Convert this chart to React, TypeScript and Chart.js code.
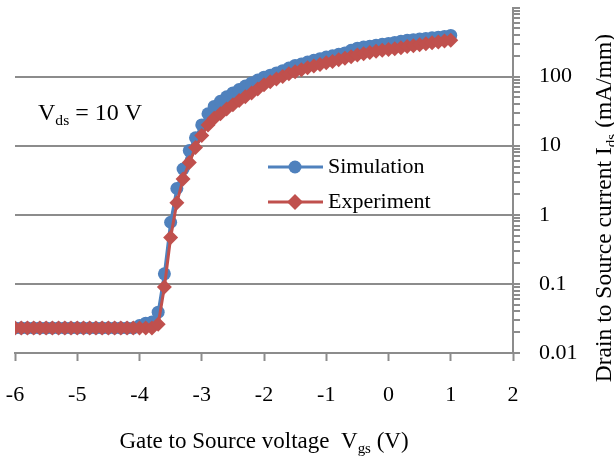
import React, { useEffect, useRef } from 'react';
import { Chart, registerables } from 'chart.js';

Chart.register(...registerables);

// Gate-to-source voltage (V)
const vgs = [
  -6.0, -5.9, -5.8, -5.7, -5.6, -5.5, -5.4, -5.3, -5.2, -5.1,
  -5.0, -4.9, -4.8, -4.7, -4.6, -4.5, -4.4, -4.3, -4.2, -4.1,
  -4.0, -3.9, -3.8, -3.7, -3.6, -3.5, -3.4, -3.3, -3.2, -3.1,
  -3.0, -2.9, -2.8, -2.7, -2.6, -2.5, -2.4, -2.3, -2.2, -2.1,
  -2.0, -1.9, -1.8, -1.7, -1.6, -1.5, -1.4, -1.3, -1.2, -1.1,
  -1.0, -0.9, -0.8, -0.7, -0.6, -0.5, -0.4, -0.3, -0.2, -0.1,
  0.0, 0.1, 0.2, 0.3, 0.4, 0.5, 0.6, 0.7, 0.8, 0.9,
  1.0,
];

// Drain current Ids (mA/mm)
const simulation = [
  0.023, 0.023, 0.023, 0.023, 0.023, 0.023, 0.023, 0.023, 0.023, 0.023,
  0.023, 0.023, 0.023, 0.023, 0.023, 0.023, 0.023, 0.023, 0.023, 0.023,
  0.025, 0.027, 0.028, 0.039, 0.14, 0.78, 2.4, 4.6, 8.5, 13,
  20, 29, 37, 44, 51, 58, 65, 73, 81, 89,
  98, 105, 113, 122, 133, 145, 152, 162, 172, 182,
  192, 200, 210, 220, 240, 258, 268, 276, 285, 294,
  302, 312, 324, 335, 342, 350, 357, 364, 372, 382,
  395,
];

const experiment = [
  0.023, 0.023, 0.023, 0.023, 0.023, 0.023, 0.023, 0.023, 0.023, 0.023,
  0.023, 0.023, 0.023, 0.023, 0.023, 0.023, 0.023, 0.023, 0.023, 0.023,
  0.023, 0.023, 0.023, 0.026, 0.09, 0.47, 1.5, 3.3, 5.7, 9.4,
  14, 20, 25, 29, 34, 39, 45, 51, 58, 66,
  76, 84, 92, 100, 110, 118, 126, 134, 142, 150,
  158, 166, 175, 184, 194, 206, 215, 224, 232, 240,
  247, 254, 262, 272, 280, 290, 298, 308, 318, 328,
  337,
];

const xTickValues = [-6, -5, -4, -3, -2, -1, 0, 1, 2];
const yMajorValues = [0.01, 0.1, 1, 10, 100, 1000];
const yMajorLabels = ['0.01', '0.1', '1', '10', '100', ''];
const yMinorMultipliers = [2, 3, 4, 5, 6, 7, 8, 9];

const seriesNames = ['Simulation', 'Experiment'];
const annotation = [{ t: 'V' }, { t: 'ds', sub: true }, { t: ' = 10 V' }];
const xTitle = [{ t: 'Gate to Source voltage  V' }, { t: 'gs', sub: true }, { t: ' (V)' }];
const yTitle = [
  { t: 'Drain to Source current I' },
  { t: 'ds', sub: true },
  { t: ' (mA/mm)' },
];

const BLUE = '#4F81BD';
const RED = '#C0504D';
const GRID = '#8c8c8c';
const FONT = '"Liberation Serif", "Times New Roman", serif';

type Seg = { t: string; sub?: boolean };

function drawRich(
  ctx: CanvasRenderingContext2D,
  segs: Seg[],
  x: number,
  y: number,
  size: number,
  align: 'left' | 'center'
) {
  const subSize = size * 0.65;
  let w = 0;
  for (const s of segs) {
    ctx.font = `${s.sub ? subSize : size}px ${FONT}`;
    w += ctx.measureText(s.t).width;
  }
  let cx = align === 'center' ? x - w / 2 : x;
  ctx.textAlign = 'left';
  ctx.textBaseline = 'alphabetic';
  ctx.fillStyle = '#000';
  for (const s of segs) {
    ctx.font = `${s.sub ? subSize : size}px ${FONT}`;
    ctx.fillText(s.t, cx, s.sub ? y + size * 0.2 : y);
    cx += ctx.measureText(s.t).width;
  }
}

function isMajor(v: number) {
  return yMajorValues.some((m) => Math.abs(Math.log10(v) - Math.log10(m)) < 1e-6);
}

const textPlugin = {
  id: 'customTexts',
  afterDraw(chart: any) {
    const ctx: CanvasRenderingContext2D = chart.ctx;
    ctx.save();

    // legend
    const rows = [
      { name: seriesNames[0], color: BLUE, style: 'circle', y: 167 },
      { name: seriesNames[1], color: RED, style: 'diamond', y: 202 },
    ];
    for (const r of rows) {
      ctx.strokeStyle = r.color;
      ctx.lineWidth = 3;
      ctx.beginPath();
      ctx.moveTo(268, r.y);
      ctx.lineTo(323, r.y);
      ctx.stroke();
      ctx.fillStyle = r.color;
      ctx.beginPath();
      if (r.style === 'circle') {
        ctx.arc(295, r.y, 6.5, 0, Math.PI * 2);
      } else {
        const d = 8;
        ctx.moveTo(295, r.y - d);
        ctx.lineTo(295 + d, r.y);
        ctx.lineTo(295, r.y + d);
        ctx.lineTo(295 - d, r.y);
        ctx.closePath();
      }
      ctx.fill();
      ctx.fillStyle = '#000';
      ctx.font = `22px ${FONT}`;
      ctx.textAlign = 'left';
      ctx.textBaseline = 'middle';
      ctx.fillText(r.name, 328, r.y);
    }

    // annotation
    drawRich(ctx, annotation, 38, 120, 24, 'left');

    // x title
    drawRich(ctx, xTitle, 264, 448, 23, 'center');

    // y title (rotated, reading bottom to top)
    ctx.save();
    ctx.translate(611, 208);
    ctx.rotate(-Math.PI / 2);
    drawRich(ctx, yTitle, 0, 0, 23.5, 'center');
    ctx.restore();

    ctx.restore();
  },
};

export default function App() {
  const canvasRef = useRef<HTMLCanvasElement | null>(null);

  useEffect(() => {
    document.body.style.margin = '0';
    const canvas = canvasRef.current;
    if (!canvas) return;

    const yTicks: number[] = [];
    for (let i = 0; i < yMajorValues.length - 1; i++) {
      yTicks.push(yMajorValues[i]);
      for (const m of yMinorMultipliers) yTicks.push(+(yMajorValues[i] * m).toPrecision(6));
    }
    yTicks.push(yMajorValues[yMajorValues.length - 1]);

    const chart = new Chart(canvas, {
      type: 'line',
      data: {
        datasets: [
          {
            label: seriesNames[0],
            data: vgs.map((x, i) => ({ x, y: simulation[i] })),
            borderColor: BLUE,
            backgroundColor: BLUE,
            pointBackgroundColor: BLUE,
            pointBorderColor: BLUE,
            pointStyle: 'circle',
            pointRadius: 6.5,
            pointBorderWidth: 0,
            borderWidth: 3,
            tension: 0,
            order: 2,
          },
          {
            label: seriesNames[1],
            data: vgs.map((x, i) => ({ x, y: experiment[i] })),
            borderColor: RED,
            backgroundColor: RED,
            pointBackgroundColor: RED,
            pointBorderColor: RED,
            pointStyle: 'rectRot',
            pointRadius: 7.5,
            pointBorderWidth: 0,
            borderWidth: 3,
            tension: 0,
            order: 1,
          },
        ],
      },
      options: {
        animation: false,
        responsive: true,
        maintainAspectRatio: false,
        layout: { padding: { left: 15, top: 3, right: 0, bottom: 0 } },
        plugins: {
          legend: { display: false },
          tooltip: { enabled: false },
        },
        scales: {
          x: {
            type: 'linear',
            position: 'bottom',
            min: -6,
            max: 2,
            afterBuildTicks: (s: any) => {
              s.ticks = xTickValues.map((v) => ({ value: v }));
            },
            afterFit: (s: any) => {
              s.height = 106;
              s.paddingLeft = 0;
              s.paddingRight = 0;
            },
            ticks: {
              color: '#000',
              font: { family: FONT, size: 22 },
              padding: 21,
              maxRotation: 0,
              autoSkip: false,
            },
            grid: {
              drawOnChartArea: false,
              drawTicks: true,
              tickLength: 8,
              tickColor: GRID,
              tickWidth: 2,
              color: GRID,
            },
            border: { color: GRID, width: 2 },
          },
          y: {
            type: 'logarithmic',
            position: 'right',
            min: 0.01,
            max: 1000,
            afterBuildTicks: (s: any) => {
              s.ticks = yTicks.map((v) => ({ value: v, major: isMajor(v) }));
            },
            afterFit: (s: any) => {
              s.width = 101;
              s.paddingTop = 0;
              s.paddingBottom = 0;
            },
            ticks: {
              color: '#000',
              font: { family: FONT, size: 22 },
              padding: 19,
              autoSkip: false,
              callback: (value: any) => {
                const v = Number(value);
                const idx = yMajorValues.findIndex(
                  (m) => Math.abs(Math.log10(v) - Math.log10(m)) < 1e-6
                );
                return idx >= 0 ? yMajorLabels[idx] : '';
              },
            },
            grid: {
              color: (c: any) => {
                const v = c.tick ? c.tick.value : 0;
                return v && isMajor(v) && v < 1000 ? GRID : 'rgba(0,0,0,0)';
              },
              lineWidth: 2,
              drawTicks: true,
              tickLength: 7,
              tickColor: GRID,
              tickWidth: 2,
            },
            border: { color: GRID, width: 2 },
          },
        },
      },
      plugins: [textPlugin],
    });

    return () => {
      chart.destroy();
    };
  }, []);

  return (
    <div style={{ position: 'absolute', left: 0, top: 0, width: 614, height: 459 }}>
      <canvas ref={canvasRef} />
    </div>
  );
}
